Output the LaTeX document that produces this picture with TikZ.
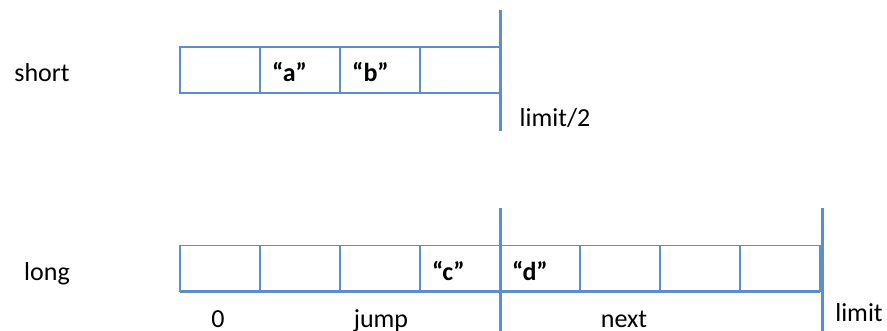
\documentclass[tikz,border=0pt]{standalone}
\usepackage{fontspec}
\setmainfont{Carlito}
\definecolor{lineblue}{RGB}{91,143,203}
\begin{document}
\begin{tikzpicture}[x=1pt,y=-1pt,
  cell/.style={draw=lineblue,line width=1.3pt,minimum width=80pt,minimum height=46pt,inner sep=0pt,outer sep=0pt},
  baseline line/.style={draw=lineblue,line width=2.6pt},
  bar/.style={draw=lineblue,line width=3pt},
  lbl/.style={font=\fontsize{26}{30}\selectfont,inner sep=0pt,anchor=base},
  val/.style={font=\fontsize{26}{30}\selectfont\bfseries,inner sep=0pt,anchor=base west}]
\useasboundingbox (0,0) rectangle (887,331);
% short array
\foreach \i [evaluate=\i as \x using 140+80*\i] in {1,...,4}
  \node[cell] (s\i) at (\x,70) {};
\draw[baseline line] (s1.south west) -- (s4.south east);
\coordinate (st) at (500,10);
\coordinate (sb) at (500,131);
\draw[bar] (st) -- (sb);
\node[lbl] (short) at (42,82) {short};
\node[lbl] (half) at (555,127) {limit/2};
\node[val] (a) at ([xshift=12pt]s2.west |- 0,82) {“a”};
\node[val] (b) at ([xshift=12pt]s3.west |- 0,82) {“b”};
% long array
\foreach \i [evaluate=\i as \x using 140+80*\i] in {1,...,8}
  \node[cell] (l\i) at (\x,268.5) {};
\draw[baseline line] (l1.south west) -- (l8.south east);
\coordinate (m1) at (500,208);
\coordinate (m2) at (500,331);
\coordinate (e1) at (822,208);
\coordinate (e2) at (822,331);
\draw[bar] (m1) -- (m2);
\draw[bar] (e1) -- (e2);
\node[lbl] (long) at (47,281) {long};
\node[val] (c) at ([xshift=12pt]l4.west |- 0,281) {“c”};
\node[val] (d) at ([xshift=12pt]l5.west |- 0,281) {“d”};
\node[lbl] (zero) at (218,328) {0};
\node[lbl] (jump) at (381,328) {jump};
\node[lbl] (next) at (624,328) {next};
\node[lbl] (limit) at (859,322) {limit};
\end{tikzpicture}
\end{document}
